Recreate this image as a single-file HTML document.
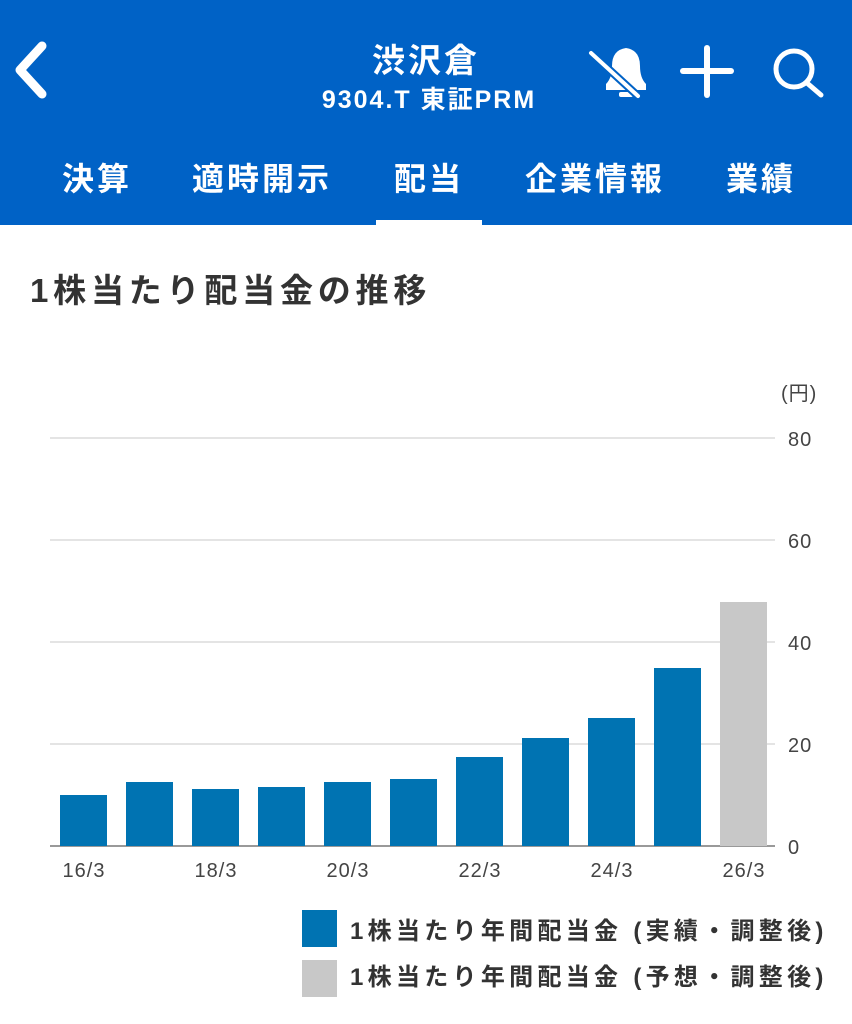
<!DOCTYPE html>
<html><head><meta charset="utf-8"><style>
body{margin:0;width:852px;height:1024px;background:#fff;font-family:"Liberation Sans","Noto Sans CJK JP",sans-serif;position:relative;overflow:hidden}
.hdr{position:absolute;left:0;top:0;width:852px;height:225px;background:#0062c6}
.t{position:absolute;white-space:nowrap;font-weight:bold}
</style></head><body>
<div class="hdr"></div>
<svg width="852" height="225" style="position:absolute;left:0;top:0">
<polyline points="42,46 20,70 42,94" fill="none" stroke="#fff" stroke-width="9" stroke-linecap="round" stroke-linejoin="round"/>
<g fill="#fff"><path d="M606,90 L606,84 Q612,78 612,66 Q612,50 626,48 Q640,50 640,66 Q640,78 646,84 L646,90Z"/><rect x="619" y="92" width="14" height="5" rx="2"/></g>
<line x1="591" y1="53" x2="638" y2="96" stroke="#0062c6" stroke-width="8"/>
<line x1="591" y1="53" x2="638" y2="96" stroke="#fff" stroke-width="4" stroke-linecap="round"/>
<line x1="707" y1="48" x2="707" y2="95" stroke="#fff" stroke-width="6" stroke-linecap="round"/>
<line x1="683" y1="71" x2="731" y2="71" stroke="#fff" stroke-width="6" stroke-linecap="round"/>
<circle cx="794" cy="69" r="18" fill="none" stroke="#fff" stroke-width="5"/>
<line x1="807" y1="83" x2="821" y2="95" stroke="#fff" stroke-width="5" stroke-linecap="round"/>
<rect x="376" y="220" width="106" height="5" fill="#fff"/>
</svg>
<div class="t" style="left:0;width:852px;text-align:center;top:34px;font-size:33px;letter-spacing:3px;color:#fff">渋沢倉</div>
<div class="t" style="left:0;width:858px;text-align:center;top:80px;font-size:25px;letter-spacing:2px;color:#fff">9304.T 東証PRM</div>
<div class="t" style="left:62px;top:154px;font-size:32px;letter-spacing:3px;color:#fff">決算</div>
<div class="t" style="left:192px;top:154px;font-size:32px;letter-spacing:3px;color:#fff">適時開示</div>
<div class="t" style="left:394px;top:154px;font-size:32px;letter-spacing:3px;color:#fff">配当</div>
<div class="t" style="left:525px;top:154px;font-size:32px;letter-spacing:3px;color:#fff">企業情報</div>
<div class="t" style="left:726px;top:154px;font-size:32px;letter-spacing:3px;color:#fff">業績</div>
<div class="t" style="left:30px;top:264px;font-size:33px;letter-spacing:4.8px;color:#333">1株当たり配当金の推移</div>
<svg width="852" height="1024" style="position:absolute;left:0;top:0" font-family="Liberation Sans, Noto Sans CJK JP, sans-serif">
<g stroke="#e4e4e4" stroke-width="2"><line x1="50" y1="438" x2="775" y2="438"/><line x1="50" y1="540" x2="775" y2="540"/><line x1="50" y1="642" x2="775" y2="642"/><line x1="50" y1="744" x2="775" y2="744"/></g>
<line x1="50" y1="846" x2="775" y2="846" stroke="#999" stroke-width="2"/>
<g fill="#444" font-size="20" letter-spacing="1"><text x="781" y="400">(円)</text><text x="788" y="446">80</text><text x="788" y="548">60</text><text x="788" y="650">40</text><text x="788" y="752">20</text><text x="788" y="854">0</text></g>
<g fill="#0073b2">
<rect x="60" y="795" width="47" height="51"/><rect x="126" y="782" width="47" height="64"/><rect x="192" y="789" width="47" height="57"/><rect x="258" y="787" width="47" height="59"/><rect x="324" y="782" width="47" height="64"/><rect x="390" y="779" width="47" height="67"/><rect x="456" y="757" width="47" height="89"/><rect x="522" y="738" width="47" height="108"/><rect x="588" y="718" width="47" height="128"/><rect x="654" y="668" width="47" height="178"/></g>
<rect x="720" y="602" width="47" height="244" fill="#c8c8c8"/>
<g fill="#444" font-size="20" letter-spacing="1" text-anchor="middle"><text x="84" y="877">16/3</text><text x="216" y="877">18/3</text><text x="348" y="877">20/3</text><text x="480" y="877">22/3</text><text x="612" y="877">24/3</text><text x="744" y="877">26/3</text></g>
<rect x="302" y="910" width="35" height="37" fill="#0073b2"/><rect x="302" y="960" width="35" height="37" fill="#c8c8c8"/>
<g fill="#333" font-size="24" font-weight="bold" letter-spacing="4.3"><text x="350" y="939">1株当たり年間配当金 (実績・調整後)</text><text x="350" y="985">1株当たり年間配当金 (予想・調整後)</text></g>
</svg>
</body></html>
